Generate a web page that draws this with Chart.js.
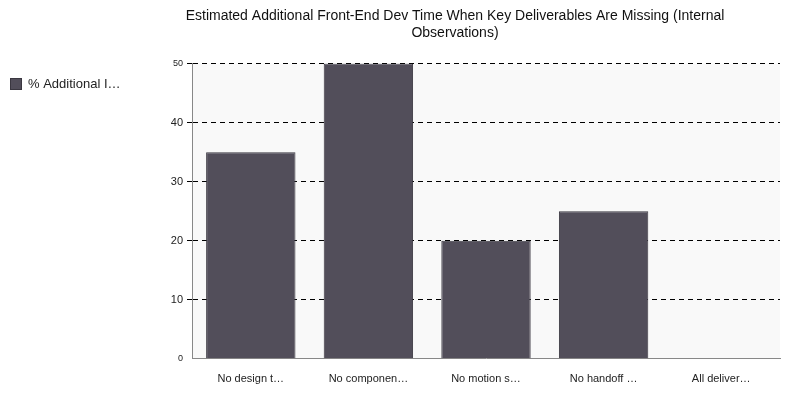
<!DOCTYPE html>
<html><head><meta charset="utf-8">
<script src="https://cdn.jsdelivr.net/npm/chart.js@4"></script>
<style>html,body{margin:0;padding:0;background:#fff}#w{width:800px;height:400px}</style>
</head><body><div id="w"><canvas id="c"></canvas></div>
<script>
const categories = ["No design t…","No componen…","No motion s…","No handoff …","All deliver…"];
const seriesName = "% Additional I…";
const values = [35, 50, 20, 25, 0];
const yTicks = [0,10,20,30,40,50];

const bgPlugin = {id:'bg', beforeDraw(c){const a=c.chartArea,x=c.ctx;x.save();x.fillStyle='#f9f9f9';x.fillRect(a.left,a.top,a.right-a.left,a.bottom-a.top);x.restore();}};
const legendPlugin = {id:'leg', afterDraw(c){const x=c.ctx;x.save();x.fillStyle='#524e5a';x.strokeStyle='#3a3740';x.fillRect(10,78,12,12);x.strokeRect(10.5,78.5,11,11);
  x.fillStyle='#222';x.font='13px Liberation Sans, Arial, sans-serif';x.textBaseline='middle';x.fillText(c.data.datasets[0].label,28,84.5);x.restore();}};
Chart.defaults.font.family = 'Liberation Sans, Arial, sans-serif';
Chart.defaults.color = '#222';
new Chart(document.getElementById('c'), {
  type:'bar',
  data:{labels:categories, datasets:[{label:seriesName, data:values, backgroundColor:'#524e5a', borderColor:'#3a3740', borderWidth:1, barPercentage:0.76, categoryPercentage:1}]},
  plugins:[bgPlugin, legendPlugin],
  options:{
    responsive:true, maintainAspectRatio:false, animation:false,
    layout:{padding:{left:130,right:20,top:0,bottom:8}},
    plugins:{
      title:{display:true, text:["Estimated Additional Front-End Dev Time When Key Deliverables Are Missing (Internal","Observations)"], font:{size:14, weight:'normal'}, color:'#111', padding:{top:8,bottom:22}, lineHeight:1.85},
      legend:{display:false},
      tooltip:{enabled:false}
    },
    scales:{
      x:{grid:{display:false}, border:{color:'#888'}, ticks:{font:{size:11}, color:'#222', padding:6, maxRotation:0}},
      y:{min:0,max:50, afterBuildTicks(s){s.ticks=yTicks.map(v=>({value:v}));},
         afterFit(s){s.width=62;},
         grid:{color:(c)=>c.tick&&c.tick.value===0?'rgba(0,0,0,0)':'#000', drawTicks:true, tickLength:5},
         border:{color:'#888', dash:[5,4]},
         ticks:{font:(c)=>({size:(c.tick&&(c.tick.value===50||c.tick.value===0))?9:11}), color:'#222', padding:4}}
    }
  }
});
</script></body></html>
